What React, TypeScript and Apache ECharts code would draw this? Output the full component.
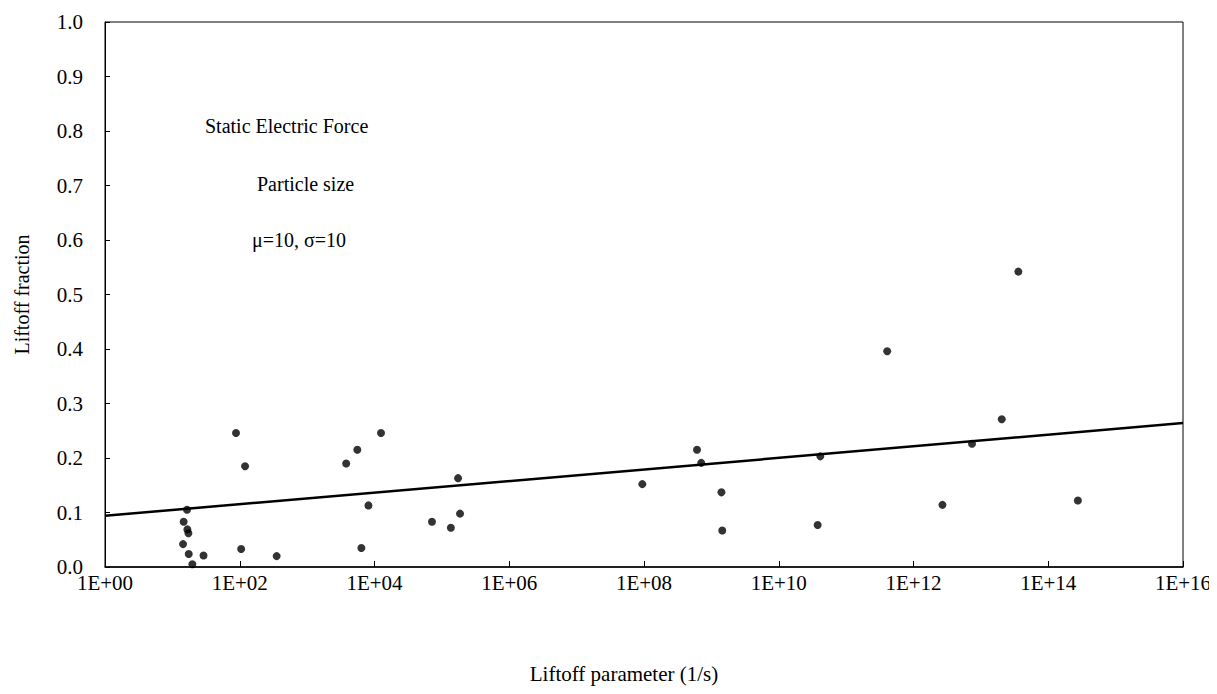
import React, { useEffect, useRef } from "react";
import * as echarts from "echarts";

const liftoffParam: number[] = [
  88, 120, 16.5, 14.7, 16.7, 17.3, 14.4, 17.5, 19.8, 29, 105, 353,
  3800, 5560, 12500, 8130, 6380, 174000, 186000, 71300, 136000,
  9.44e7, 6.12e8, 7.08e8, 1.41e9, 1.45e9, 4.14e10, 3.78e10,
  4.07e11, 2.69e12, 7.38e12, 2.04e13, 3.6e13, 2.75e14,
];
const liftoffFraction: number[] = [
  0.246, 0.185, 0.105, 0.083, 0.069, 0.062, 0.042, 0.024, 0.005, 0.021, 0.033, 0.02,
  0.19, 0.215, 0.246, 0.113, 0.035, 0.163, 0.098, 0.083, 0.072,
  0.152, 0.215, 0.191, 0.137, 0.067, 0.203, 0.077,
  0.396, 0.114, 0.226, 0.271, 0.542, 0.122,
];
const trendX: number[] = [1, 1e16];
const trendY: number[] = [0.094, 0.264];
const annotations: string[] = ["Static Electric Force", "Particle size", "\u03bc=10, \u03c3=10"];
const xTitle = "Liftoff parameter (1/s)";
const yTitle = "Liftoff fraction";

const FONT = "'Liberation Serif', 'Times New Roman', serif";

export default function App() {
  const ref = useRef<HTMLDivElement>(null);
  useEffect(() => {
    if (!ref.current) return;
    const chart = echarts.init(ref.current, null, { renderer: "svg" });
    const points = liftoffParam.map((x, i) => [x, liftoffFraction[i]]);
    const trend = trendX.map((x, i) => [x, trendY[i]]);
    chart.setOption({
      animation: false,
      backgroundColor: "#fff",
      textStyle: { fontFamily: FONT, color: "#000" },
      grid: {
        left: 97, right: 34, top: 14, bottom: 119,
        show: true, borderColor: "#000", borderWidth: 1,
        containLabel: false, outerBoundsMode: "none",
      },
      xAxis: {
        type: "log",
        logBase: 10,
        min: 1,
        max: 1e16,
        interval: 2,
        name: xTitle,
        nameLocation: "middle",
        nameGap: 96,
        nameTextStyle: { fontFamily: FONT, fontSize: 21, color: "#000", padding: [0, 40, 0, 0] },
        axisLine: { show: true, lineStyle: { color: "#000", width: 1.5 } },
        axisTick: { show: true, inside: true, length: 6, lineStyle: { color: "#000" } },
        minorTick: { show: false },
        splitLine: { show: false },
        axisLabel: {
          fontFamily: FONT, fontSize: 21, color: "#000", margin: 5,
          formatter: (v: number) => {
            const e = Math.round(Math.log10(v));
            return "1E+" + String(e).padStart(2, "0");
          },
        },
      },
      yAxis: {
        type: "value",
        min: 0,
        max: 1,
        interval: 0.1,
        name: yTitle,
        nameLocation: "middle",
        nameRotate: 90,
        nameGap: 73,
        nameTextStyle: { fontFamily: FONT, fontSize: 20, color: "#000" },
        axisLine: { show: true, lineStyle: { color: "#000", width: 1 } },
        axisTick: { show: true, inside: true, length: 5, lineStyle: { color: "#000" } },
        splitLine: { show: false },
        axisLabel: {
          fontFamily: FONT, fontSize: 21, color: "#000", margin: 22,
          formatter: (v: number) => v.toFixed(1),
        },
      },
      series: [
        {
          type: "line",
          data: trend,
          showSymbol: false,
          symbol: "none",
          lineStyle: { color: "#000", width: 2.5 },
          z: 2,
        },
        {
          type: "scatter",
          data: points,
          symbol: "circle",
          symbolSize: 8,
          itemStyle: { color: "#000" },
          z: 3,
        },
      ],
      graphic: [
        { type: "text", left: 197, top: 108, style: { text: annotations[0], font: `20px ${FONT}`, fill: "#000" } },
        { type: "text", left: 249, top: 166, style: { text: annotations[1], font: `20px ${FONT}`, fill: "#000" } },
        { type: "text", left: 244, top: 222, style: { text: annotations[2], font: `20px ${FONT}`, fill: "#000" } },
      ],
    });
    return () => chart.dispose();
  }, []);
  return <div ref={ref} style={{ width: 1209, height: 678 }} />;
}
